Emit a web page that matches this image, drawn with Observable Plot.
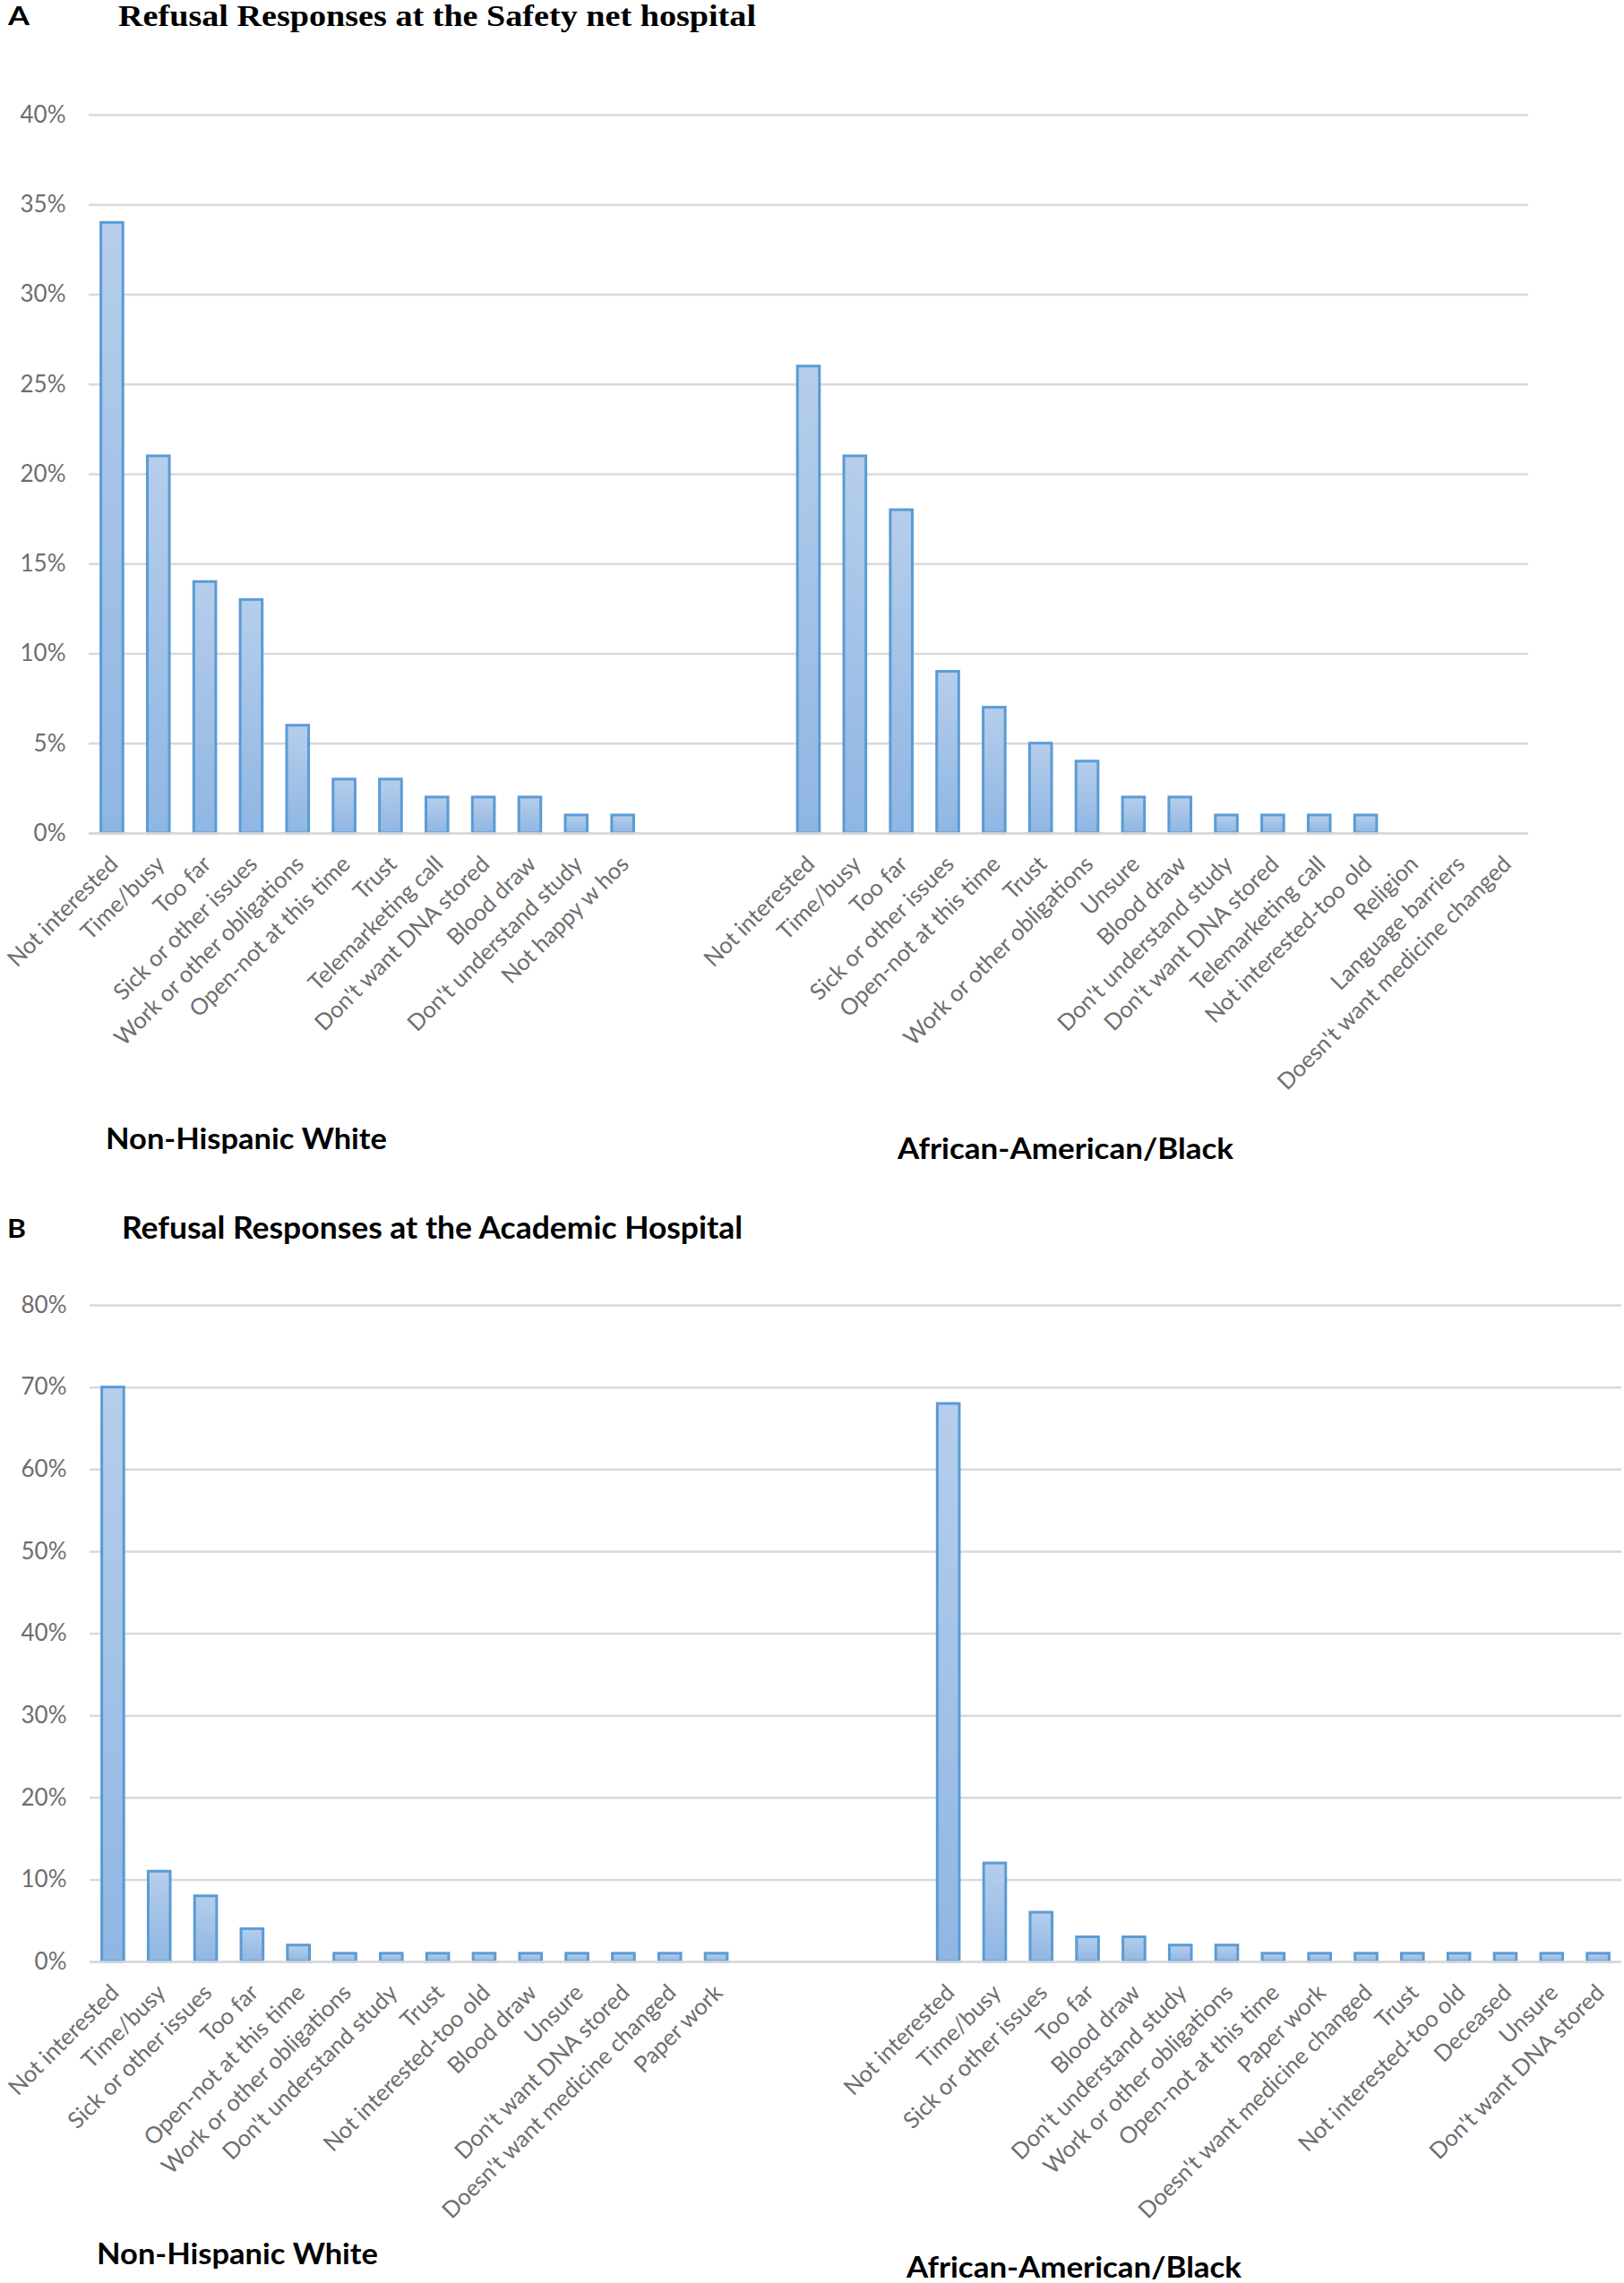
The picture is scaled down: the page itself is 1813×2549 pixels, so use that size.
<!DOCTYPE html>
<html>
<head>
<meta charset="utf-8">
<script src="https://cdn.jsdelivr.net/npm/d3@7"></script>
<script src="https://cdn.jsdelivr.net/npm/@observablehq/plot@0.6"></script>
<style>
  body { margin: 0; background: #fff; }
  #page { position: relative; width: 1813px; height: 2549px; overflow: hidden; background: #fff; }
  .panel { position: absolute; left: 0; }
  #overlay { position: absolute; left: 0; top: 0; pointer-events: none; }
</style>
</head>
<body>
<div id="page"></div>
<script>
// ---------- DATA ----------
// Panel A: Safety net hospital
const safetyWhiteReasons = ["Not interested", "Time/busy", "Too far", "Sick or other issues", "Work or other obligations", "Open-not at this time", "Trust", "Telemarketing call", "Don't want DNA stored", "Blood draw", "Don't understand study", "Not happy w hos"];
const safetyWhiteValues = [34, 21, 14, 13, 6, 3, 3, 2, 2, 2, 1, 1];
const safetyBlackReasons = ["Not interested", "Time/busy", "Too far", "Sick or other issues", "Open-not at this time", "Trust", "Work or other obligations", "Unsure", "Blood draw", "Don't understand study", "Don't want DNA stored", "Telemarketing call", "Not interested-too old", "Religion", "Language barriers", "Doesn't want medicine changed"];
const safetyBlackValues = [26, 21, 18, 9, 7, 5, 4, 2, 2, 1, 1, 1, 1, 0, 0, 0];
const safetyBlankCategories = 3;
const safetyTicks = [0, 5, 10, 15, 20, 25, 30, 35, 40];

// Panel B: Academic hospital
const academicWhiteReasons = ["Not interested", "Time/busy", "Sick or other issues", "Too far", "Open-not at this time", "Work or other obligations", "Don't understand study", "Trust", "Not interested-too old", "Blood draw", "Unsure", "Don't want DNA stored", "Doesn't want medicine changed", "Paper work"];
const academicWhiteValues = [70, 11, 8, 4, 2, 1, 1, 1, 1, 1, 1, 1, 1, 1];
const academicBlackReasons = ["Not interested", "Time/busy", "Sick or other issues", "Too far", "Blood draw", "Don't understand study", "Work or other obligations", "Open-not at this time", "Paper work", "Doesn't want medicine changed", "Trust", "Not interested-too old", "Deceased", "Unsure", "Don't want DNA stored"];
const academicBlackValues = [68, 12, 6, 3, 3, 2, 2, 1, 1, 1, 1, 1, 1, 1, 1];
const academicBlankCategories = 4;
const academicTicks = [0, 10, 20, 30, 40, 50, 60, 70, 80];

const panelLetters = ["A", "B"];
const panelTitles = ["Refusal Responses at the Safety net hospital", "Refusal Responses at the Academic Hospital"];
const groupNames = ["Non-Hispanic White", "African-American/Black"];

// ---------- BUILD ----------
const SVGNS = "http://www.w3.org/2000/svg";

function gradientDefs(id) {
  return () => {
    const defs = document.createElementNS(SVGNS, "defs");
    defs.innerHTML = `<linearGradient id="${id}" x1="0" y1="0" x2="0" y2="1">
      <stop offset="0" stop-color="#b6ceeb"/>
      <stop offset="1" stop-color="#8fb6e3"/>
    </linearGradient>`;
    return defs;
  };
}

function buildPanel(cfg) {
  const rows = [
    ...cfg.whiteReasons.map((r, i) => ({key: "W|" + r, label: r, value: cfg.whiteValues[i]})),
    ...d3.range(cfg.blanks).map(i => ({key: "gap" + i, label: "", value: 0})),
    ...cfg.blackReasons.map((r, i) => ({key: "B|" + r, label: r, value: cfg.blackValues[i]}))
  ];
  const domain = rows.map(d => d.key);
  const labeled = rows.filter(d => d.label);
  const barRows = rows.filter(d => d.value > 0);
  const plotWidth = 1813 - cfg.marginLeft - cfg.marginRight;
  const step = plotWidth / domain.length;
  const inset = (step - 24.6) / 2;
  return Plot.plot({
    width: 1813,
    height: cfg.height,
    marginLeft: cfg.marginLeft,
    marginRight: cfg.marginRight,
    marginTop: cfg.marginTop,
    marginBottom: cfg.marginBottom,
    style: {background: "transparent", fontFamily: "Lato, sans-serif", overflow: "visible"},
    x: {type: "band", domain, padding: 0, round: false, axis: null},
    y: {domain: [0, d3.max(cfg.ticks)], axis: null},
    marks: [
      gradientDefs(cfg.gradId),
      Plot.gridY(cfg.ticks, {stroke: "#d9d9d9", strokeOpacity: 1, strokeWidth: 2.5}),
      Plot.barY(barRows, {
        x: "key", y: "value", insetLeft: inset, insetRight: inset,
        fill: `url(#${cfg.gradId})`, stroke: "#5b9bd5", strokeWidth: 3
      }),
      Plot.ruleY([0], {stroke: "#d9d9d9", strokeWidth: 2.5}),
      Plot.text(labeled, {
        x: "key", text: "label", frameAnchor: "bottom", rotate: -45,
        textAnchor: "end", dx: 8, dy: 36, fontSize: 25.5, fill: "#6e6e6e"
      }),
      Plot.axisY(cfg.ticks, {
        tickSize: 0, tickPadding: 26, tickFormat: d => d + "%",
        fontSize: 26, color: "#6e6e6e", label: null
      })
    ]
  });
}

const page = document.getElementById("page");

const panelA = buildPanel({
  whiteReasons: safetyWhiteReasons, whiteValues: safetyWhiteValues,
  blackReasons: safetyBlackReasons, blackValues: safetyBlackValues,
  blanks: safetyBlankCategories, ticks: safetyTicks,
  height: 1260, marginLeft: 99, marginRight: 107, marginTop: 68, marginBottom: 390,
  gradId: "gradA"
});
panelA.classList.add("panel");
panelA.style.top = "60px";
page.appendChild(panelA);

const panelB = buildPanel({
  whiteReasons: academicWhiteReasons, whiteValues: academicWhiteValues,
  blackReasons: academicBlackReasons, blackValues: academicBlackValues,
  blanks: academicBlankCategories, ticks: academicTicks,
  height: 1149, marginLeft: 100, marginRight: 3, marginTop: 57, marginBottom: 359,
  gradId: "gradB"
});
panelB.classList.add("panel");
panelB.style.top = "1400px";
page.appendChild(panelB);

// ---------- TITLES & GROUP LABELS ----------
const overlay = document.createElementNS(SVGNS, "svg");
overlay.setAttribute("id", "overlay");
overlay.setAttribute("width", 1813);
overlay.setAttribute("height", 2549);
page.appendChild(overlay);

function addText(str, x, y, size, family, len) {
  const t = document.createElementNS(SVGNS, "text");
  t.setAttribute("x", x);
  t.setAttribute("y", y);
  t.setAttribute("font-size", size);
  t.setAttribute("font-family", family);
  t.setAttribute("font-weight", "bold");
  t.setAttribute("fill", "#000");
  t.setAttribute("textLength", len);
  t.setAttribute("lengthAdjust", "spacingAndGlyphs");
  t.textContent = str;
  overlay.appendChild(t);
}

addText(panelLetters[0], 9, 28, 28, "Lato, sans-serif", 24);
addText(panelTitles[0], 132, 29, 34, "'Liberation Serif', 'DejaVu Serif', serif", 712);
addText(groupNames[0], 118, 1283, 32, "Lato, sans-serif", 314);
addText(groupNames[1], 1002, 1294, 32, "Lato, sans-serif", 375);

addText(panelLetters[1], 8, 1382, 28, "Lato, sans-serif", 21);
addText(panelTitles[1], 136, 1383, 34, "Lato, sans-serif", 693);
addText(groupNames[0], 108, 2528, 32, "Lato, sans-serif", 314);
addText(groupNames[1], 1012, 2543, 32, "Lato, sans-serif", 374);
</script>
</body>
</html>
